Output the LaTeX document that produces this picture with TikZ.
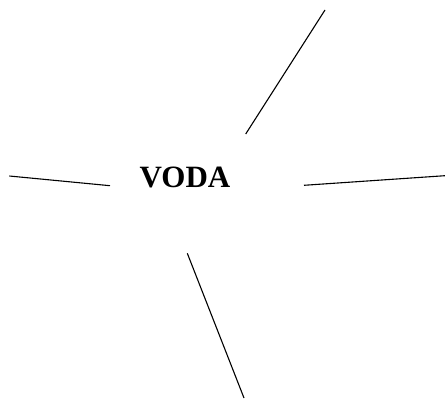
\documentclass[tikz,border=0pt]{standalone}
\usepackage{fontspec}
\setmainfont{Liberation Serif}
\usepackage{tikz}
\usetikzlibrary{positioning}
\tikzset{
  ray/.style={draw=black, line width=1.1pt},
  wordlabel/.style={font=\fontsize{31}{36}\selectfont\bfseries, inner sep=0pt, anchor=base}
}

\begin{document}
\begin{tikzpicture}[x=1pt, y=-1pt]
\useasboundingbox (0,0) rectangle (445,406);
\node[wordlabel] (voda) at (185,187.3) {VODA};

\coordinate (topin)    at (245.7,134);
\coordinate (topout)   at (325,10);
\coordinate (leftout)  at (9.3,176);
\coordinate (leftin)   at (110,185.7);
\coordinate (rightin)  at (304,185.3);
\coordinate (rightout) at (445,175.7);
\coordinate (botin)    at (187.3,253.3);
\coordinate (botout)   at (244,398);

\draw[ray] (topin)   -- (topout);
\draw[ray] (leftout) -- (leftin);
\draw[ray] (rightin) -- (rightout);
\draw[ray] (botin)   -- (botout);
\end{tikzpicture}
\end{document}
